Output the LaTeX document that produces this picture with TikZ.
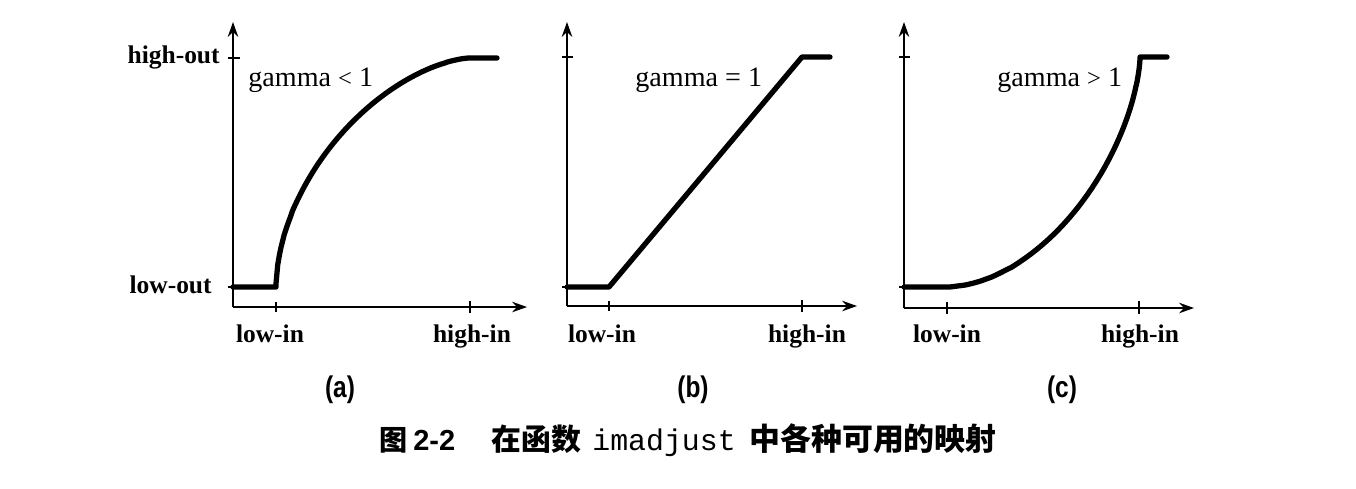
\documentclass[tikz,border=0pt]{standalone}
\usepackage{fontspec}
\setmainfont{Liberation Serif}
\setmonofont{Liberation Mono}
\newfontfamily\cjk{Noto Sans CJK SC}
\newfontfamily\capsans{Liberation Sans}
\newfontfamily\capnarrow[FakeStretch=0.82]{Liberation Sans}
\usetikzlibrary{arrows.meta}
\begin{document}
\begin{tikzpicture}[x=0.02cm,y=-0.02cm,
  axis/.style={line width=0.8pt,-{Stealth[length=8.5pt,width=6pt]}},
  tickmark/.style={line width=0.6pt},
  curve/.style={line width=3pt,line join=round,line cap=round},
  axlabel/.style={font=\fontsize{14.5}{16}\selectfont\bfseries,inner sep=0pt,anchor=base},
  gamlabel/.style={font=\fontsize{16}{18}\selectfont,inner sep=0pt,anchor=base west},
  sublabel/.style={font=\fontsize{17}{19}\selectfont\capnarrow\bfseries,inner sep=0pt,anchor=base},
  captext/.style={inner sep=0pt,anchor=base west}]
\useasboundingbox (0,0) rectangle (1356,488);
\fill[white] (0,0) rectangle (1356,488);

% ---------- panel (a)
\coordinate (ao) at (233,307);
\coordinate (ay) at (233,22);
\coordinate (ax) at (527,307);
\draw[axis] (ao) -- (ay);
\draw[axis] (ao) -- (ax);
\draw[tickmark] (228,58) -- (240,58);
\draw[tickmark] (228,287) -- (238,287);
\draw[tickmark] (276,302) -- (276,312);
\draw[tickmark] (470,301) -- (470,313);
\draw[curve] (233,287) -- (276,287)
  -- plot[domain=0.0005:0.999,samples=120] ({276+194*\x},{287-229*(1-(1-\x)^1.6)^0.55})
  -- (470,58) -- (497,58);
\node[axlabel,anchor=base east] (ahout) at (220,63) {high-out};
\node[axlabel,anchor=base east] (alout) at (212,293) {low-out};
\node[axlabel] (alin) at (270,342) {low-in};
\node[axlabel] (ahin) at (472,342) {high-in};
\node[gamlabel] (ag) at (248,86) {gamma {\fontsize{14}{16}\selectfont<} 1};
\node[sublabel] (asub) at (340,397) {(a)};

% ---------- panel (b)
\coordinate (bo) at (567,306);
\coordinate (by) at (567,22);
\coordinate (bx) at (857,306);
\draw[axis] (bo) -- (by);
\draw[axis] (bo) -- (bx);
\draw[tickmark] (562,57) -- (573,57);
\draw[tickmark] (562,287) -- (572,287);
\draw[tickmark] (609,301) -- (609,311);
\draw[tickmark] (802,300) -- (802,312);
\draw[curve] (567,287) -- (609,287) -- (802,57) -- (830,57);
\node[axlabel] (blin) at (602,342) {low-in};
\node[axlabel] (bhin) at (807,342) {high-in};
\node[gamlabel] (bg) at (635,86) {gamma = 1};
\node[sublabel] (bsub) at (693,397) {(b)};

% ---------- panel (c)
\coordinate (co) at (904,308);
\coordinate (cy) at (904,22);
\coordinate (cx) at (1194,308);
\draw[axis] (co) -- (cy);
\draw[axis] (co) -- (cx);
\draw[tickmark] (899,57) -- (910,57);
\draw[tickmark] (899,287) -- (909,287);
\draw[tickmark] (947,302) -- (947,314);
\draw[tickmark] (1139,301) -- (1139,314);
\draw[curve] (904,287) -- (947,287)
  -- plot[domain=0.0005:0.999,samples=120] ({947+193*(1-(1-\x)^1.6)^0.55},{287-230*\x})
  -- (1140,57) -- (1167,57);
\node[axlabel] (clin) at (947,342) {low-in};
\node[axlabel] (chin) at (1140,342) {high-in};
\node[gamlabel] (cg) at (997,86) {gamma {\fontsize{14}{16}\selectfont>} 1};
\node[sublabel] (csub) at (1062,397) {(c)};

% ---------- caption
\node[captext,font=\fontsize{16}{20}\selectfont\cjk\bfseries] (cap1) at (379,450) {图};
\node[captext,font=\fontsize{16.5}{20}\selectfont\capsans\bfseries] (cap2) at (413,450) {2-2};
\node[captext,font=\fontsize{17}{20}\selectfont\cjk\bfseries] (cap3) at (491,450) {在函数};
\node[captext,font=\fontsize{17}{20}\selectfont\ttfamily] (cap4) at (592,450) {imadjust};
\node[captext,font=\fontsize{17.6}{20}\selectfont\cjk\bfseries] (cap5) at (749,450) {中各种可用的映射};
\end{tikzpicture}
\end{document}
